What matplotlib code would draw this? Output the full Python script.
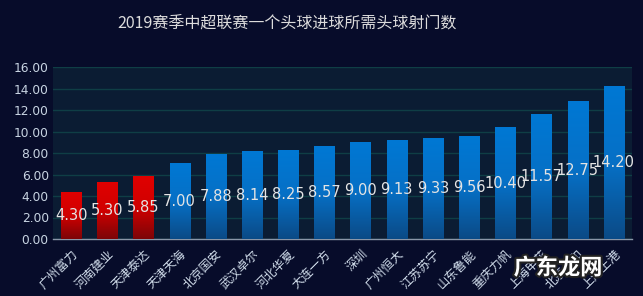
import matplotlib
matplotlib.use("Agg")
import matplotlib.pyplot as plt
import numpy as np
from matplotlib.colors import LinearSegmentedColormap
import matplotlib.patheffects as pe

plt.rcParams['font.family'] = ['Noto Sans CJK SC', 'DejaVu Sans']

title = "2019赛季中超联赛一个头球进球所需头球射门数"
teams = ["广州富力", "河南建业", "天津泰达", "天津天海", "北京国安", "武汉卓尔", "河北华夏", "大连一方",
         "深圳", "广州恒大", "江苏苏宁", "山东鲁能", "重庆力帆", "上海申花", "北京人和", "上海上港"]
values = [4.30, 5.30, 5.85, 7.00, 7.88, 8.14, 8.25, 8.57, 9.00, 9.13, 9.33, 9.56, 10.40, 11.57, 12.75, 14.20]
highlight = [True, True, True] + [False] * 13
yticks = [0, 2, 4, 6, 8, 10, 12, 14, 16]

fig = plt.figure(figsize=(6.43, 2.96), dpi=100, facecolor='#070c2a')
ax = fig.add_axes([53/643, 1-239/296, 579/643, 172/296])
ax.set_facecolor('#0b1c33')

x = np.arange(len(teams))
bars = ax.bar(x, values, width=0.56, color='none', zorder=3)

red_cmap = LinearSegmentedColormap.from_list('r', [(0, '#7c0508'), (0.5, '#d00000'), (1, '#e00000')])
blue_cmap = LinearSegmentedColormap.from_list('b', [(0, '#0b4a86'), (0.5, '#0670c6'), (1, '#0078d4')])
grad = np.linspace(0, 1, 256).reshape(-1, 1)
for b, hl in zip(bars, highlight):
    x0, w, h = b.get_x(), b.get_width(), b.get_height()
    ax.imshow(grad, extent=(x0, x0 + w, 0, h), origin='lower', aspect='auto',
              cmap=red_cmap if hl else blue_cmap, zorder=3)

for xi, v in zip(x, values):
    ax.text(xi, v / 2, f"{v:.2f}", ha='center', va='center', color='#e4e4e4',
            fontsize=10.5, zorder=5, family=['DejaVu Sans'])

ax.set_xlim(-0.5, len(teams) - 0.5)
ax.set_ylim(0, 16)
ax.set_yticks(yticks)
ax.set_yticklabels([f"{t:.2f}" for t in yticks], color='#c8d4e2', fontsize=8.8, family=['DejaVu Sans'])
ax.set_xticks(x)
ax.set_xticklabels(teams, rotation=45, ha='right', va='top', rotation_mode='anchor',
                   color='#d0dcea', fontsize=8.8)
ax.tick_params(axis='both', length=0, pad=3)
ax.tick_params(axis='x', pad=6)
ax.yaxis.grid(True, color='#0f3e45', linewidth=1, zorder=0)
ax.set_axisbelow(True)
for s in ['top', 'right', 'left']:
    ax.spines[s].set_visible(False)
ax.spines['bottom'].set_color('#8a96a8')
ax.spines['bottom'].set_linewidth(1)

fig.text(287/643, 1-24/296, title, ha='center', va='center', color='#dcdcdc', fontsize=11.5)

wm = fig.text(558/643, 1-268/296, "广东龙网", ha='center', va='center', color='white',
              fontsize=16, fontweight='bold')
wm.set_path_effects([pe.withStroke(linewidth=3, foreground='#222222')])

fig.savefig('out.png', dpi=100, facecolor=fig.get_facecolor())
